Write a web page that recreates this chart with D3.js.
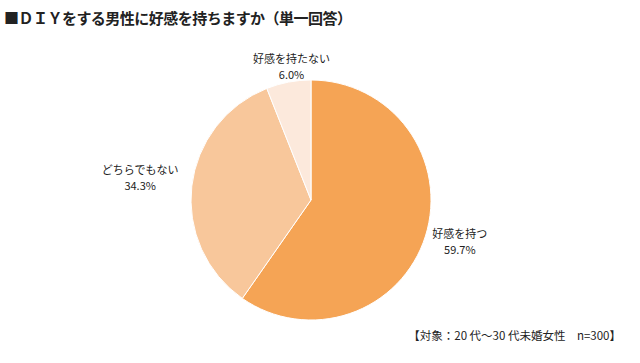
<!DOCTYPE html>
<html>
<head>
<meta charset="utf-8">
<script src="https://cdn.jsdelivr.net/npm/d3@7/dist/d3.min.js"></script>
<style>
body { margin: 0; background: #fff; }
text { font-family: "Noto Sans CJK JP", "Noto Sans", sans-serif; fill: #222; }
</style>
</head>
<body>
<script>
// 回答項目と割合
var labels = ["好感を持つ", "どちらでもない", "好感を持たない"];
var values = [59.7, 34.3, 6.0];
var colors = ["#f5a455", "#f8c79b", "#fce9dc"];
// ラベル位置（中心からの距離）
var labelRadius = [156, 172, 136];

var svg = d3.select("body")
			.append("svg")
			.attr("width", 640)
			.attr("height", 363);

svg.append("text")
	.attr("x", 4)
	.attr("y", 24)
	.attr("font-size", 15)
	.attr("font-weight", "bold")
	.attr("textLength", 348)
	.text("■ＤＩＹをする男性に好感を持ちますか（単一回答）");

var cx = 311, cy = 200, r = 120;

var pie = d3.pie().sort(null).value(function(d){return d;});
var arcs = pie(values);
var arc = d3.arc().innerRadius(0).outerRadius(r);

var g = svg.append("g").attr("transform", "translate(" + cx + "," + cy + ")");

g.selectAll("path")
	.data(arcs)
	.enter()
	.append("path")
	.attr("d", arc)
	.attr("fill", function(d, i){return colors[i];})
	.attr("stroke", "#fff")
	.attr("stroke-width", 1);

// ラベル
var lab = g.selectAll("g.lab")
	.data(arcs)
	.enter()
	.append("g")
	.attr("class", "lab")
	.attr("transform", function(d, i){
		var a = (d.startAngle + d.endAngle) / 2;
		var x = Math.sin(a) * labelRadius[i];
		var y = -Math.cos(a) * labelRadius[i];
		// 微調整
		if (i == 0) y -= 6;
		if (i == 1) y -= 3;
		if (i == 2) x += 6;
		return "translate(" + x + "," + y + ")";
	});

lab.append("text")
	.attr("text-anchor", "middle")
	.attr("y", -3)
	.attr("font-size", 11)
	.text(function(d, i){return labels[i];});

lab.append("text")
	.attr("text-anchor", "middle")
	.attr("y", 13)
	.attr("font-size", 11)
	.text(function(d){return d.data.toFixed(1) + "%";});

svg.append("text")
	.attr("x", 621)
	.attr("y", 340)
	.attr("text-anchor", "end")
	.attr("font-size", 11.5)
	.text("【対象：20 代～30 代未婚女性　n=300】");
</script>
</body>
</html>
